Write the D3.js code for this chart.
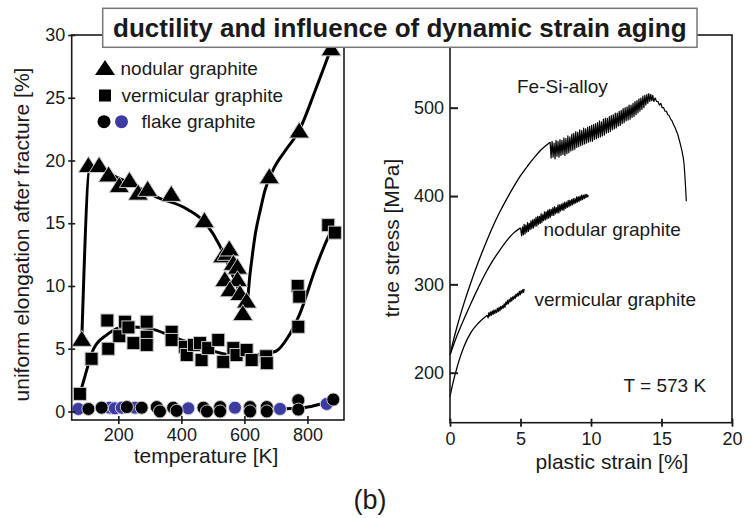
<!DOCTYPE html>
<html>
<head>
<meta charset="utf-8">
<script src="https://cdn.jsdelivr.net/npm/d3@7"></script>
<style>
  body { margin: 0; background: #fff; }
  svg { display: block; }
  text { font-family: "Liberation Sans", Arial, sans-serif; fill: #1a1a1a; }
</style>
</head>
<body>
<svg id="fig" width="744" height="518"></svg>
<script>
// ---------- tick values ----------
const tempTicks = [200, 400, 600, 800];
const elongTicks = [0, 5, 10, 15, 20, 25, 30];
const strainTicks = [0, 5, 10, 15, 20];
const stressTicks = [200, 300, 400, 500];

// ---------- left panel: uniform elongation [%] vs temperature [K] ----------
const nodular = [
  [84, 5.75], [105, 19.6], [139, 19.6], [169, 18.85], [203, 18.0], [235, 18.4],
  [263, 17.4], [293, 17.7], [368, 17.3], [473, 15.2], [531, 12.4], [545, 12.6],
  [552, 12.95], [565, 11.8], [578, 11.5], [538, 10.5], [578, 10.5], [554, 9.7],
  [586, 9.4], [607, 8.8], [595, 7.8], [679, 18.7], [774, 22.35], [875, 28.9]
];
const nodularTrend = [
  [84, 5.75], [110, 19.4], [150, 19.15], [200, 18.6], [260, 17.9], [320, 17.1],
  [420, 16.1], [480, 14.9], [520, 13.3], [560, 11.0], [590, 9.3], [607, 8.6],
  [618, 11.0], [635, 14.2], [650, 16.0], [665, 17.6], [690, 19.2], [730, 20.8],
  [774, 22.4], [825, 25.6], [876, 29.0]
];

const vermicular = [
  [78, 1.4], [115, 4.2], [165, 7.25], [168, 5.0], [203, 6.0], [221, 7.15],
  [232, 6.7], [248, 5.45], [290, 7.15], [290, 5.95], [290, 5.3], [369, 6.35],
  [369, 5.7], [411, 5.15], [417, 4.5], [440, 5.3], [459, 5.45], [464, 4.1],
  [485, 5.05], [517, 5.7], [533, 3.95], [565, 5.05], [575, 4.5], [607, 4.9],
  [623, 4.1], [669, 4.4], [671, 3.85], [769, 10.0], [774, 9.15], [771, 6.75],
  [866, 14.85], [887, 14.25]
];
const vermicularTrend = [
  [78, 1.4], [94, 2.8], [120, 4.9], [163, 6.1], [226, 6.75], [300, 6.6],
  [375, 5.95], [459, 5.15], [565, 4.5], [650, 4.55], [700, 4.8], [739, 5.95],
  [776, 7.8], [824, 11.3], [866, 13.9], [880, 14.6]
];

const flakeBlack = [
  [105, 0.2], [147, 0.3], [227, 0.35], [274, 0.3], [322, 0.35], [332, 0.0],
  [374, 0.3], [385, 0.05], [470, 0.3], [481, 0.0], [523, 0.35], [523, 0.0],
  [618, 0.35], [618, 0.0], [671, 0.35], [671, 0.0], [771, 0.9], [771, 0.15],
  [882, 0.95]
];
const flakeBlue = [
  [73, 0.2], [173, 0.3], [189, 0.25], [211, 0.3], [253, 0.3], [422, 0.25],
  [570, 0.3], [713, 0.2], [861, 0.6]
];
const flakeTrend = [[700, 0.2], [771, 0.25], [880, 0.85]];

// ---------- right panel: true stress [MPa] vs plastic strain [%], T = 573 K ----------
const feSiHardening = [
  [0, 220], [0.25, 237], [0.5, 252], [0.75, 266], [1.0, 279], [1.5, 303],
  [2.0, 325], [2.5, 345], [3.0, 364], [3.5, 381], [4.0, 396], [4.5, 410],
  [5.0, 423], [5.5, 434], [6.0, 444], [6.5, 453], [7.1, 461]
];
const feSiSerrated = [
  [7.10, 461], [7.17, 443], [7.24, 462], [7.31, 444], [7.38, 460], [7.45, 442],
  [7.52, 463], [7.59, 445], [7.66, 462], [7.73, 444], [7.80, 464], [7.87, 446],
  [7.94, 463], [8.01, 447], [8.08, 466], [8.15, 446], [8.22, 465], [8.29, 448],
  [8.36, 468], [8.43, 449], [8.50, 467], [8.57, 451], [8.64, 470], [8.71, 452],
  [8.78, 471], [8.85, 453], [8.92, 473], [8.99, 455], [9.06, 472], [9.13, 456],
  [9.20, 475], [9.27, 457], [9.34, 474], [9.41, 458], [9.48, 477], [9.55, 459],
  [9.62, 476], [9.69, 460], [9.76, 478], [9.83, 461], [9.90, 479], [9.97, 462],
  [10.04, 480], [10.11, 462], [10.18, 481], [10.25, 464], [10.32, 482], [10.39, 465],
  [10.46, 483], [10.53, 466], [10.60, 485], [10.67, 467], [10.74, 484], [10.81, 468],
  [10.88, 487], [10.95, 469], [11.02, 488], [11.09, 471], [11.16, 488], [11.23, 472],
  [11.30, 490], [11.37, 473], [11.44, 491], [11.51, 475], [11.58, 492], [11.65, 476],
  [11.72, 494], [11.79, 477], [11.86, 494], [11.93, 479], [12.00, 496], [12.07, 480],
  [12.14, 497], [12.21, 482], [12.28, 499], [12.35, 483], [12.42, 500], [12.49, 485],
  [12.56, 501], [12.63, 486], [12.70, 503], [12.77, 487], [12.84, 503], [12.91, 489],
  [12.98, 505], [13.05, 490], [13.12, 507], [13.19, 492], [13.26, 508], [13.33, 494],
  [13.40, 510], [13.47, 496], [13.54, 511], [13.61, 498], [13.68, 513], [13.75, 500],
  [13.82, 514], [13.89, 503], [13.96, 515], [14.03, 505], [14.10, 516], [14.17, 507],
  [14.24, 515], [14.31, 508], [14.38, 514], [14.45, 507]
];
const feSiNecking = [
  [14.45, 507], [14.55, 511], [14.65, 507], [14.75, 507], [14.85, 503], [14.95, 505],
  [15.05, 500], [15.15, 500], [15.25, 496], [15.35, 496], [15.45, 492], [15.55, 491],
  [15.65, 487], [15.75, 485], [15.85, 481], [15.95, 478], [16.05, 474], [16.15, 470],
  [16.25, 464], [16.35, 458], [16.45, 451], [16.55, 443], [16.60, 436], [16.65, 425],
  [16.70, 412], [16.74, 400], [16.76, 394]
];

const nodHardening = [
  [0, 220], [0.5, 242], [1.0, 261], [1.5, 279], [2.0, 296], [2.5, 312],
  [3.0, 326], [3.5, 338], [4.0, 349], [4.5, 358], [5.0, 364]
];
const nodSerrated = [
  [5.00, 364], [5.08, 355], [5.14, 365], [5.20, 356], [5.26, 368], [5.32, 357],
  [5.38, 367], [5.44, 359], [5.50, 370], [5.56, 360], [5.62, 369], [5.68, 362],
  [5.74, 372], [5.80, 363], [5.86, 373], [5.92, 364], [5.98, 374], [6.04, 366],
  [6.10, 376], [6.16, 366], [6.22, 377], [6.28, 368], [6.34, 377], [6.40, 369],
  [6.46, 380], [6.52, 370], [6.58, 379], [6.64, 372], [6.70, 382], [6.76, 373],
  [6.82, 382], [6.88, 374], [6.94, 384], [7.00, 375], [7.06, 385], [7.12, 376],
  [7.18, 385], [7.24, 378], [7.30, 387], [7.36, 378], [7.42, 388], [7.48, 380],
  [7.54, 387], [7.60, 381], [7.66, 390], [7.72, 381], [7.78, 390], [7.84, 383],
  [7.90, 391], [7.96, 384], [8.02, 392], [8.08, 384], [8.14, 393], [8.20, 386],
  [8.26, 393], [8.32, 387], [8.38, 395], [8.44, 388], [8.50, 395], [8.56, 389],
  [8.62, 396], [8.68, 390], [8.74, 397], [8.80, 391], [8.86, 397], [8.92, 392],
  [8.98, 399], [9.04, 393], [9.10, 399], [9.16, 394], [9.22, 400], [9.28, 395],
  [9.34, 401], [9.40, 396], [9.46, 401], [9.52, 397], [9.58, 402], [9.64, 398],
  [9.70, 402], [9.76, 399], [9.82, 401]
];

const vermHardening = [
  [0, 173], [0.25, 191], [0.5, 206], [0.75, 219], [1.0, 230], [1.5, 246],
  [2.0, 256], [2.64, 265]
];
const vermSerrated = [
  [2.64, 265], [2.70, 262], [2.76, 268], [2.82, 264], [2.88, 269], [2.94, 265],
  [3.00, 270], [3.06, 266], [3.12, 271], [3.18, 267], [3.24, 271], [3.30, 268],
  [3.36, 273], [3.42, 269], [3.48, 274], [3.54, 270], [3.60, 275], [3.66, 272],
  [3.72, 276], [3.78, 273], [3.84, 278], [3.90, 274], [3.96, 280], [4.02, 277],
  [4.08, 282], [4.14, 278], [4.20, 283], [4.26, 280], [4.32, 285], [4.38, 281],
  [4.44, 286], [4.50, 283], [4.56, 287], [4.62, 284], [4.68, 289], [4.74, 286],
  [4.80, 290], [4.86, 287], [4.92, 292], [4.98, 288], [5.04, 293], [5.10, 290],
  [5.16, 294], [5.22, 291], [5.26, 295]
];

// ---------- drawing ----------
const svg = d3.select("#fig");
const INK = "#1a1a1a";

// scales
const xL = d3.scaleLinear().domain([52, 916]).range([71.7, 344]);
const yL = d3.scaleLinear().domain([-0.68, 30]).range([420, 35]);
const xR = d3.scaleLinear().domain([0, 20]).range([450, 732]);
const yR = d3.scaleLinear().domain([143.4, 582.3]).range([422.7, 35]);

// ---- left panel ----
const left = svg.append("g");

const trend = d3.line().x(d => xL(d[0])).y(d => yL(d[1])).curve(d3.curveMonotoneX);
[nodularTrend, vermicularTrend, flakeTrend].forEach(s => {
  left.append("path").attr("d", trend(s))
    .attr("fill", "none").attr("stroke", "#000").attr("stroke-width", 3)
    .attr("stroke-linejoin", "round").attr("stroke-linecap", "round");
});

const MARK_EDGE = "#c8c8c8";
left.selectAll("circle.blue").data(flakeBlue).join("circle")
  .attr("class", "blue").attr("cx", d => xL(d[0])).attr("cy", d => yL(d[1]))
  .attr("r", 6.5).attr("fill", "#3b3ba0").attr("stroke", "#d8d8ee").attr("stroke-width", 1);
left.selectAll("circle.black").data(flakeBlack).join("circle")
  .attr("class", "black").attr("cx", d => xL(d[0])).attr("cy", d => yL(d[1]))
  .attr("r", 6.5).attr("fill", "#000").attr("stroke", MARK_EDGE).attr("stroke-width", 1);
left.selectAll("rect.sq").data(vermicular).join("rect")
  .attr("class", "sq").attr("x", d => xL(d[0]) - 6.5).attr("y", d => yL(d[1]) - 6.5)
  .attr("width", 13).attr("height", 13)
  .attr("fill", "#000").attr("stroke", MARK_EDGE).attr("stroke-width", 1);
const tri = "M0,-9L10,7L-10,7Z";
left.selectAll("path.tri").data(nodular).join("path")
  .attr("class", "tri").attr("d", tri)
  .attr("transform", d => `translate(${xL(d[0])},${yL(d[1])})`)
  .attr("fill", "#000").attr("stroke", MARK_EDGE).attr("stroke-width", 1);

// frame
left.append("rect").attr("x", 71.7).attr("y", 35).attr("width", 344 - 71.7).attr("height", 420 - 35)
  .attr("fill", "none").attr("stroke", INK).attr("stroke-width", 1.6);

// axes
const axL = left.append("g").attr("transform", "translate(71.7,0)")
  .call(d3.axisLeft(yL).tickValues(elongTicks).tickSize(3).tickPadding(3.5));
axL.select(".domain").remove();
axL.selectAll(".tick line").attr("x1", 3.5).attr("x2", -3.5).attr("stroke", INK).attr("stroke-width", 1.6);
axL.selectAll("text").style("font-size", "18px").style("font-family", null).attr("fill", INK);

const axB = left.append("g").attr("transform", "translate(0,420)")
  .call(d3.axisBottom(xL).tickValues(tempTicks).tickSize(4).tickPadding(4));
axB.select(".domain").remove();
axB.selectAll(".tick line").attr("y1", -4).attr("y2", 4).attr("stroke", INK).attr("stroke-width", 1.6);
axB.selectAll("text").style("font-size", "18px").style("font-family", null).attr("fill", INK);

left.append("text").attr("transform", "translate(29,234.5) rotate(-90)")
  .attr("text-anchor", "middle").style("font-size", "21px")
  .text("uniform elongation after fracture [%]");
left.append("text").attr("x", 206).attr("y", 463)
  .attr("text-anchor", "middle").style("font-size", "21px").text("temperature [K]");

// legend
const lg = left.append("g");
lg.append("path").attr("d", "M0,-8L10,7L-10,7Z").attr("transform", "translate(105,68)").attr("fill", "#000");
lg.append("rect").attr("x", 99).attr("y", 89.5).attr("width", 12).attr("height", 12).attr("fill", "#000");
lg.append("circle").attr("cx", 104).attr("cy", 121.7).attr("r", 6.5).attr("fill", "#000");
lg.append("circle").attr("cx", 121.5).attr("cy", 121.7).attr("r", 6.5).attr("fill", "#3b3ba0");
lg.append("text").attr("x", 120.5).attr("y", 75).style("font-size", "19px").text("nodular graphite");
lg.append("text").attr("x", 121.5).attr("y", 101.5).style("font-size", "19px").text("vermicular graphite");
lg.append("text").attr("x", 141.5).attr("y", 127.5).style("font-size", "19px").text("flake graphite");

// ---- right panel ----
const right = svg.append("g");
const smooth = d3.line().x(d => xR(d[0])).y(d => yR(d[1])).curve(d3.curveMonotoneX);
const jagged = d3.line().x(d => xR(d[0])).y(d => yR(d[1]));

[feSiHardening, nodHardening, vermHardening].forEach(s => {
  right.append("path").attr("d", smooth(s)).attr("fill", "none")
    .attr("stroke", "#000").attr("stroke-width", 1.3);
});
[feSiSerrated, feSiNecking, nodSerrated, vermSerrated].forEach(s => {
  right.append("path").attr("d", jagged(s)).attr("fill", "none")
    .attr("stroke", "#000").attr("stroke-width", 1.2).attr("stroke-linejoin", "round");
});

right.append("rect").attr("x", 450).attr("y", 35).attr("width", 732 - 450).attr("height", 422.7 - 35)
  .attr("fill", "none").attr("stroke", INK).attr("stroke-width", 1.6);

const axRL = right.append("g").attr("transform", "translate(450,0)")
  .call(d3.axisLeft(yR).tickValues(stressTicks).tickSizeInner(-8).tickSizeOuter(0).tickPadding(6));
axRL.select(".domain").remove();
axRL.selectAll(".tick line").attr("stroke", INK).attr("stroke-width", 2);
axRL.selectAll("text").style("font-size", "18px").style("font-family", null).attr("fill", INK);

const axRB = right.append("g").attr("transform", "translate(0,422.7)")
  .call(d3.axisBottom(xR).tickValues(strainTicks).tickSize(4).tickPadding(6));
axRB.select(".domain").remove();
axRB.selectAll(".tick line").attr("y1", -4).attr("y2", 4).attr("stroke", INK).attr("stroke-width", 1.8);
axRB.selectAll("text").style("font-size", "18px").style("font-family", null).attr("fill", INK);

right.append("text").attr("transform", "translate(398.5,238) rotate(-90)")
  .attr("text-anchor", "middle").style("font-size", "21px").text("true stress [MPa]");
right.append("text").attr("x", 612).attr("y", 469)
  .attr("text-anchor", "middle").style("font-size", "21px").text("plastic strain [%]");

right.append("text").attr("x", 517).attr("y", 93).style("font-size", "19px").text("Fe-Si-alloy");
right.append("text").attr("x", 543.5).attr("y", 236).style("font-size", "19px").text("nodular graphite");
right.append("text").attr("x", 534.5).attr("y", 306).style("font-size", "19px").text("vermicular graphite");
right.append("text").attr("x", 623.5).attr("y", 392).style("font-size", "19px").text("T = 573 K");

// ---- title box spanning both panels ----
svg.append("rect").attr("x", 102.7).attr("y", 8.3).attr("width", 697 - 102.7).attr("height", 39)
  .attr("fill", "#fff").attr("stroke", "#777").attr("stroke-width", 1.5);
svg.append("text").attr("x", 399.8).attr("y", 37).attr("text-anchor", "middle")
  .style("font-size", "26px").style("font-weight", "bold")
  .text("ductility and influence of dynamic strain aging");

// ---- panel caption ----
svg.append("text").attr("x", 370).attr("y", 509).attr("text-anchor", "middle")
  .style("font-size", "27px").text("(b)");
</script>
</body>
</html>
